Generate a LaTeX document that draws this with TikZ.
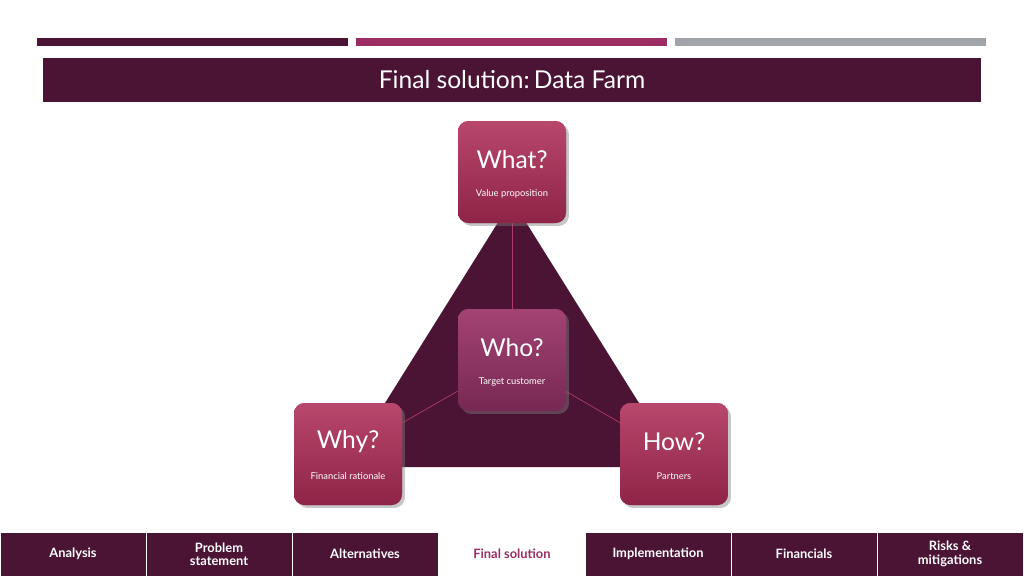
\documentclass[tikz,border=0pt]{standalone}
\usepackage{fontspec}
\setmainfont{Lato}
\usetikzlibrary{positioning,calc,shadows}
\definecolor{wine}{HTML}{4B1434}
\definecolor{berry}{HTML}{9B2D63}
\definecolor{steel}{HTML}{A0A4A8}
\definecolor{boxtop}{HTML}{B8476C}
\definecolor{boxbot}{HTML}{8E2447}
\definecolor{whotop}{HTML}{A34373}
\definecolor{whobot}{HTML}{772853}
\definecolor{seam}{HTML}{B03A6A}
\begin{document}
\begin{tikzpicture}
[x=0.03cm, y=-0.03cm,
qbox/.style={rectangle, rounded corners=9pt, minimum width=108*0.03cm, minimum height=102*0.03cm,
  top color=boxtop, bottom color=boxbot, draw=none, drop shadow={opacity=0.25}, text=white, align=center},
navcell/.style={rectangle, fill=wine, draw=white, line width=0.6pt, minimum width=146*0.03cm, minimum height=44*0.03cm,
  text=white, font=\fontsize{11}{11.5}\selectfont\bfseries, align=center, inner sep=0pt}]

\useasboundingbox (0,0) rectangle (1024,576);

% top bars and title
\fill[wine]  (37,38) rectangle (348,46);
\fill[berry] (356,38) rectangle (667,46);
\fill[steel] (675,38) rectangle (986,46);
\node[rectangle, fill=wine, minimum width=938*0.03cm, minimum height=44*0.03cm, text=white,
  font=\fontsize{21}{22}\selectfont] (title) at (512,80) {Final solution:\,Data Farm};

% triangle
\coordinate (apex) at (512,200);
\coordinate (bl) at (345,467);
\coordinate (br) at (679,467);
\fill[wine] (apex) -- (bl) -- (br) -- cycle;

% question boxes
\node[qbox] (what) at (512,172) {};
\node[qbox, top color=whotop, bottom color=whobot] (who) at (512,360) {};
\node[qbox] (why) at (348,454) {};
\node[qbox] (how) at (674,454) {};

\draw[seam, line width=0.6pt] (what) -- (who);
\draw[seam, line width=0.6pt] (who) -- (why);
\draw[seam, line width=0.6pt] (who) -- (how);
\node[qbox] at (what) {};
\node[qbox] at (why) {};
\node[qbox] at (how) {};
\node[qbox, top color=whotop, bottom color=whobot] at (who) {};

\foreach \n/\q/\s in {what/What?/Value proposition, who/Who?/Target customer,
  why/Why?/Financial rationale, how/How?/Partners} {
  \node[text=white, font=\fontsize{21}{22}\selectfont] (\n q) at ($(\n)+(0,-12)$) {\q};
  \node[text=white, font=\fontsize{8}{9}\selectfont] (\n s) at ($(\n)+(0,22)$) {\s};
}

% navigation strip
\foreach \x/\t/\k in {73/Analysis/1, 219/Problem\\statement/2, 365/Alternatives/3,
  658/Implementation/5, 804/Financials/6, 950/Risks \&\\mitigations/7} {
  \node[navcell] (nav\k) at (\x,554) {\t};
}
\node[navcell, fill=white, text=berry] (nav4) at (512,554) {Final solution};
\end{tikzpicture}
\end{document}
